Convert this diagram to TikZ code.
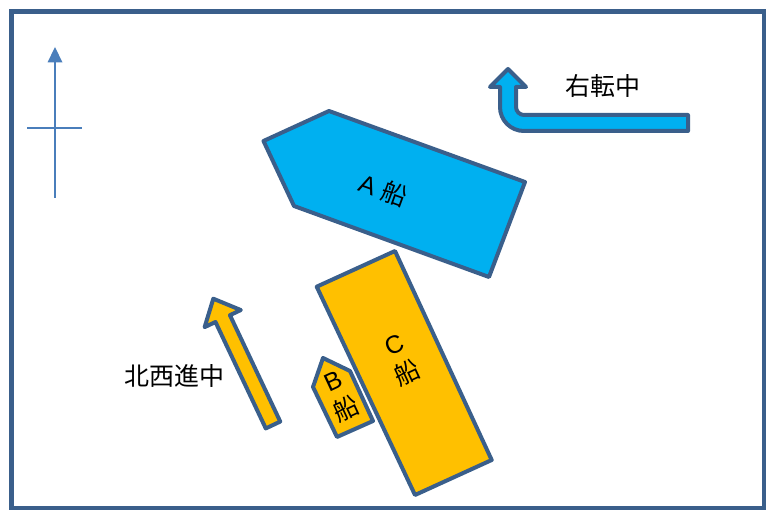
\documentclass[tikz,border=0pt]{standalone}
\usepackage{fontspec}
\setmainfont{Liberation Sans}
\newfontfamily\cjk{Noto Sans CJK JP}
\definecolor{edge}{HTML}{3A5F8B}
\definecolor{skyfill}{HTML}{00B0F0}
\definecolor{goldfill}{HTML}{FFC000}
\definecolor{compass}{HTML}{4A7EBB}
\tikzset{
  shipshape/.style={draw=edge, line width=4, line join=round},
  label/.style={font=\fontsize{25}{28}\selectfont, inner sep=0pt, align=center},
}
\begin{document}
\begin{tikzpicture}[x=1pt, y=-1pt]
\useasboundingbox (0,0) rectangle (766,510);
% frame
\draw[edge, line width=5] (11.5,11.5) rectangle (764.5,508.5);
% compass
\coordinate (cN) at (55,62);
\coordinate (cS) at (55,198);
\coordinate (cW) at (27,128);
\coordinate (cE) at (82,128);
\draw[compass, line width=1.6] (cS) -- (cN);
\draw[compass, line width=1.6] (cW) -- (cE);
\fill[compass] (55,47) -- (62.5,62.5) -- (47.5,62.5) -- cycle;
% ship A
\draw[shipshape, fill=skyfill] (263.5,141) -- (329,111) -- (525,182) -- (489,277) -- (294,206) -- cycle;
\node[label, rotate=-20] (shipA) at (383,190) {A {\cjk 船}};
% ship B
\draw[shipshape, fill=goldfill] (323,358) -- (350,371) -- (373,421) -- (337,437) -- (313,387) -- cycle;
\node[label, rotate=25] (shipB) at (340,396) {B\\[3pt]{\cjk 船}};
% ship C
\draw[shipshape, fill=goldfill] (316.7,286.7) -- (395,251) -- (491.7,460) -- (415,495) -- cycle;
\node[label, rotate=25] (shipC) at (401,360) {C\\[3pt]{\cjk 船}};
% right-turn arrow
\draw[shipshape, fill=skyfill]
  (688,115) -- (524,115) .. controls (519.6,115) and (516,111.4) .. (516,107)
  -- (516,87) -- (526,87) -- (508,69) -- (490,87) -- (500,87)
  -- (500,107) .. controls (500,120.3) and (510.7,131) .. (524,131)
  -- (688,131) -- cycle;
\node[label] (turn) at (603,86) {\cjk 右転中};
% north-west arrow
\begin{scope}[shift={(273,425)}, rotate=115.3]
\draw[shipshape, fill=goldfill]
  (0,-8) -- (117.7,-8) -- (117.7,-20) -- (139.7,0) -- (117.7,20) -- (117.7,8) -- (0,8) -- cycle;
\end{scope}
\node[label] (nw) at (174,376) {\cjk 北西進中};
\end{tikzpicture}
\end{document}
